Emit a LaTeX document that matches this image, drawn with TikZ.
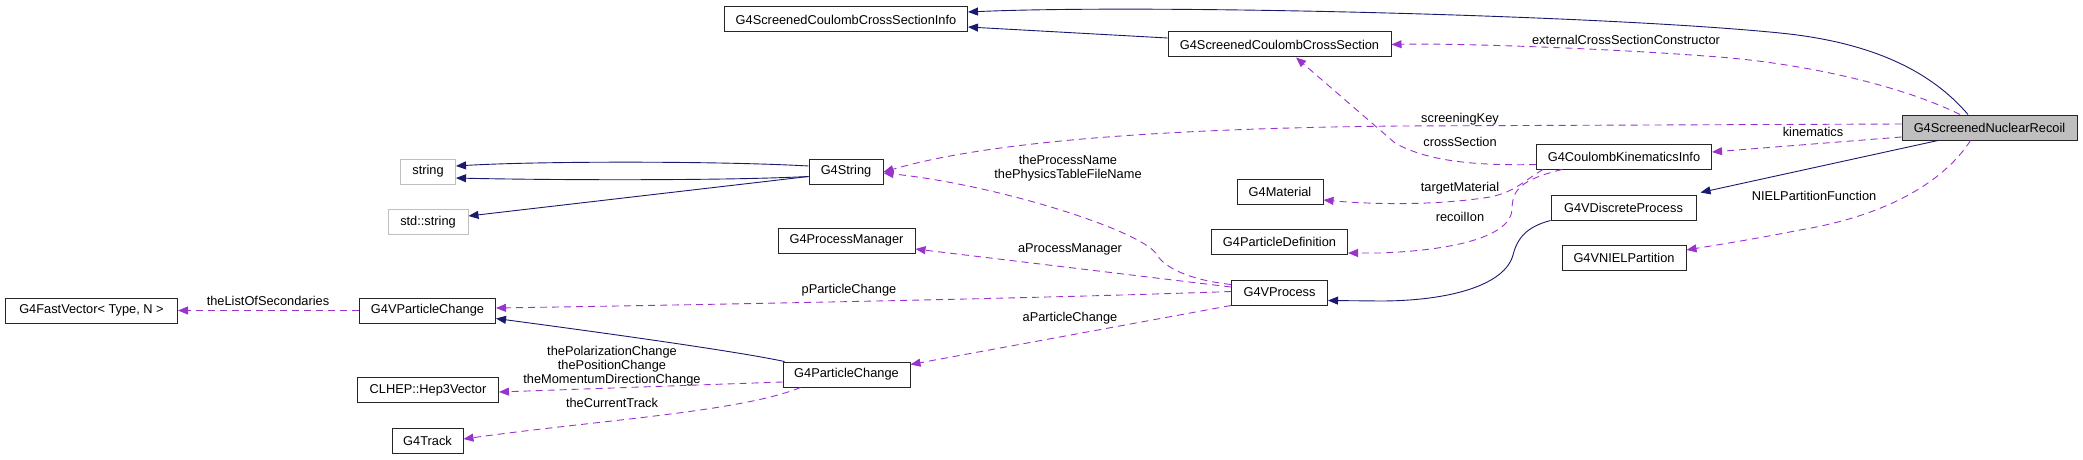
\documentclass[tikz,border=0pt]{standalone}
\usepackage{fontspec}
\setmainfont{Liberation Sans}
\usepackage{tikz}
\usetikzlibrary{arrows.meta,positioning}
\definecolor{inhblue}{HTML}{191970}
\definecolor{usepurple}{HTML}{9A32CD}
\definecolor{boxgray}{HTML}{BFBFBF}
\newcommand{\dxfont}{\fontsize{12.8}{14}\selectfont}

\begin{document}
\begin{tikzpicture}[x=1pt,y=-1pt,
  cls/.style={draw=black!85,line width=1pt,minimum height=25pt,inner sep=0pt,
              font=\dxfont,fill=white},
  ext/.style={cls,draw=boxgray},
  inh/.style={-{Triangle[length=10pt,width=8pt]},draw=inhblue,line width=0.9pt},
  use/.style={-{Triangle[length=10pt,width=8pt]},draw=usepurple,line width=0.9pt,
              dash pattern=on 7pt off 5pt},
  lbl/.style={font=\dxfont,align=center,inner sep=0pt}]
\useasboundingbox (0,0) rectangle (2083,460);
% classes
\node[cls,minimum width=243pt] (info) at (846,19.5) {G4ScreenedCoulombCrossSectionInfo};
\node[cls,minimum width=223pt] (cs) at (1279.5,44.5) {G4ScreenedCoulombCrossSection};
\node[cls,minimum width=175pt,fill=boxgray] (recoil) at (1989.5,127.5) {G4ScreenedNuclearRecoil};
\node[cls,minimum width=175pt] (kin) at (1624,156.5) {G4CoulombKinematicsInfo};
\node[ext,minimum width=55pt] (string) at (428,171.5) {string};
\node[ext,minimum width=80pt] (stdstring) at (428,222) {std::string};
\node[cls,minimum width=74pt] (g4string) at (846,171.5) {G4String};
\node[cls,minimum width=86pt] (material) at (1280,191.5) {G4Material};
\node[cls,minimum width=145pt] (discrete) at (1623.5,207.5) {G4VDiscreteProcess};
\node[cls,minimum width=137pt] (pm) at (846.5,240.5) {G4ProcessManager};
\node[cls,minimum width=136pt] (pdef) at (1279.5,242) {G4ParticleDefinition};
\node[cls,minimum width=124pt] (niel) at (1624,258) {G4VNIELPartition};
\node[cls,minimum width=96pt] (vprocess) at (1279.5,292.5) {G4VProcess};
\node[cls,minimum width=172pt] (fastvec) at (91.5,310.5) {G4FastVector< Type, N >};
\node[cls,minimum width=136pt] (vpc) at (427.5,310.5) {G4VParticleChange};
\node[cls,minimum width=127pt] (pc) at (846.5,374.5) {G4ParticleChange};
\node[cls,minimum width=141pt] (hep3) at (428,390) {CLHEP::Hep3Vector};
\node[cls,minimum width=71pt] (track) at (427.5,440.5) {G4Track};
% inheritance
\draw[inh] ([xshift=-21.5pt]recoil.north) .. controls (1930,70) and (1870,42) .. (1780,33)
  .. controls (1600,15) and (1150,4) .. ([yshift=7.5pt]info.east);
\draw[inh] ([yshift=6.5pt]cs.west) -- ([yshift=-7.5pt]info.east);
\draw[inh] ([xshift=-51.5pt]recoil.south) -- ([xshift=4pt,yshift=2pt]discrete.north east);
\draw[inh] (discrete.south west) .. controls (1530,226) and (1518,235) .. (1513,255)
  .. controls (1505,285) and (1450,301) .. (1380,301) -- ([yshift=-8pt]vprocess.east);
\draw[inh] ([yshift=5.5pt]g4string.west) .. controls (720,161) and (540,161) .. ([yshift=5.5pt]string.east);
\draw[inh] ([yshift=-5pt]g4string.west) .. controls (720,181) and (540,180) .. ([yshift=-6.5pt]string.east);
\draw[inh] ([yshift=-5pt]g4string.west) -- ([yshift=6pt]stdstring.east);
\draw[inh] ([xshift=2pt]pc.north west) .. controls (740,352) and (620,335) .. ([yshift=-8pt]vpc.east);
% usage
\draw[use] ([xshift=-29.5pt]recoil.north) .. controls (1900,85) and (1800,62) .. (1705,56)
  .. controls (1600,48) and (1450,43) .. (cs.east);
\draw[use] ([yshift=3.5pt]recoil.west) -- (1400,126)
  .. controls (1200,128) and (1000,138) .. ([yshift=-0.5pt]g4string.east);
\draw[use] ([yshift=-8pt]kin.west) .. controls (1470,166) and (1425,160) .. (1395,143)
  -- ([xshift=16.5pt]cs.south);
\draw[use] ([yshift=-9.5pt]recoil.west) -- ([yshift=4.5pt]kin.east);
\draw[use] ([xshift=-81pt]kin.south) .. controls (1525,180) and (1515,192) .. (1490,197)
  .. controls (1440,205) and (1380,205) .. ([yshift=-8.5pt]material.east);
\draw[use] ([xshift=-62pt]kin.south) .. controls (1520,180) and (1512,190) .. (1512,210)
  .. controls (1510,235) and (1460,250) .. (1380,253) -- ([yshift=-11pt]pdef.east);
\draw[use] ([xshift=-19pt]recoil.south) .. controls (1945,180) and (1890,215) .. (1800,230)
  .. controls (1750,240) and (1710,246) .. ([yshift=8pt]niel.east);
\draw[use] ([yshift=8pt]vprocess.west) .. controls (1190,280) and (1165,268) .. (1157,255)
  .. controls (1145,232) and (1000,185) .. ([yshift=-1.5pt]g4string.east);
\draw[use] ([yshift=5.5pt]vprocess.west) -- ([yshift=-8.5pt]pm.east);
\draw[use] ([yshift=1pt]vprocess.west) .. controls (1050,298) and (750,304) .. ([yshift=2.5pt]vpc.east);
\draw[use] (vprocess.south west) -- ([yshift=-3pt]pc.north east);
\draw[use] (vpc.west) -- (fastvec.east);
\draw[use] ([yshift=-7.5pt]pc.west) -- ([yshift=-2pt]hep3.east);
\draw[use] ([xshift=-46pt]pc.south) .. controls (740,412) and (600,420) .. ([yshift=1.5pt]track.east);
% labels
\node[lbl] (lext) at (1626,40) {externalCrossSectionConstructor};
\node[lbl] (lscreen) at (1460,119) {screeningKey};
\node[lbl] (lcross) at (1460,142) {crossSection};
\node[lbl] (lkin) at (1813,132) {kinematics};
\node[lbl] (ltarget) at (1460,188) {targetMaterial};
\node[lbl] (lrecoil) at (1460,217) {recoilIon};
\node[lbl] (lniel) at (1814,196) {NIELPartitionFunction};
\node[lbl] (lpname) at (1068,168) {theProcessName\\thePhysicsTableFileName};
\node[lbl] (lpm) at (1070,249) {aProcessManager};
\node[lbl] (lppc) at (849,290) {pParticleChange};
\node[lbl] (lapc) at (1070,318) {aParticleChange};
\node[lbl] (lsec) at (268,301) {theListOfSecondaries};
\node[lbl] (lvec) at (612,366) {thePolarizationChange\\thePositionChange\\theMomentumDirectionChange};
\node[lbl] (ltrack) at (612,403) {theCurrentTrack};
\end{tikzpicture}
\end{document}
